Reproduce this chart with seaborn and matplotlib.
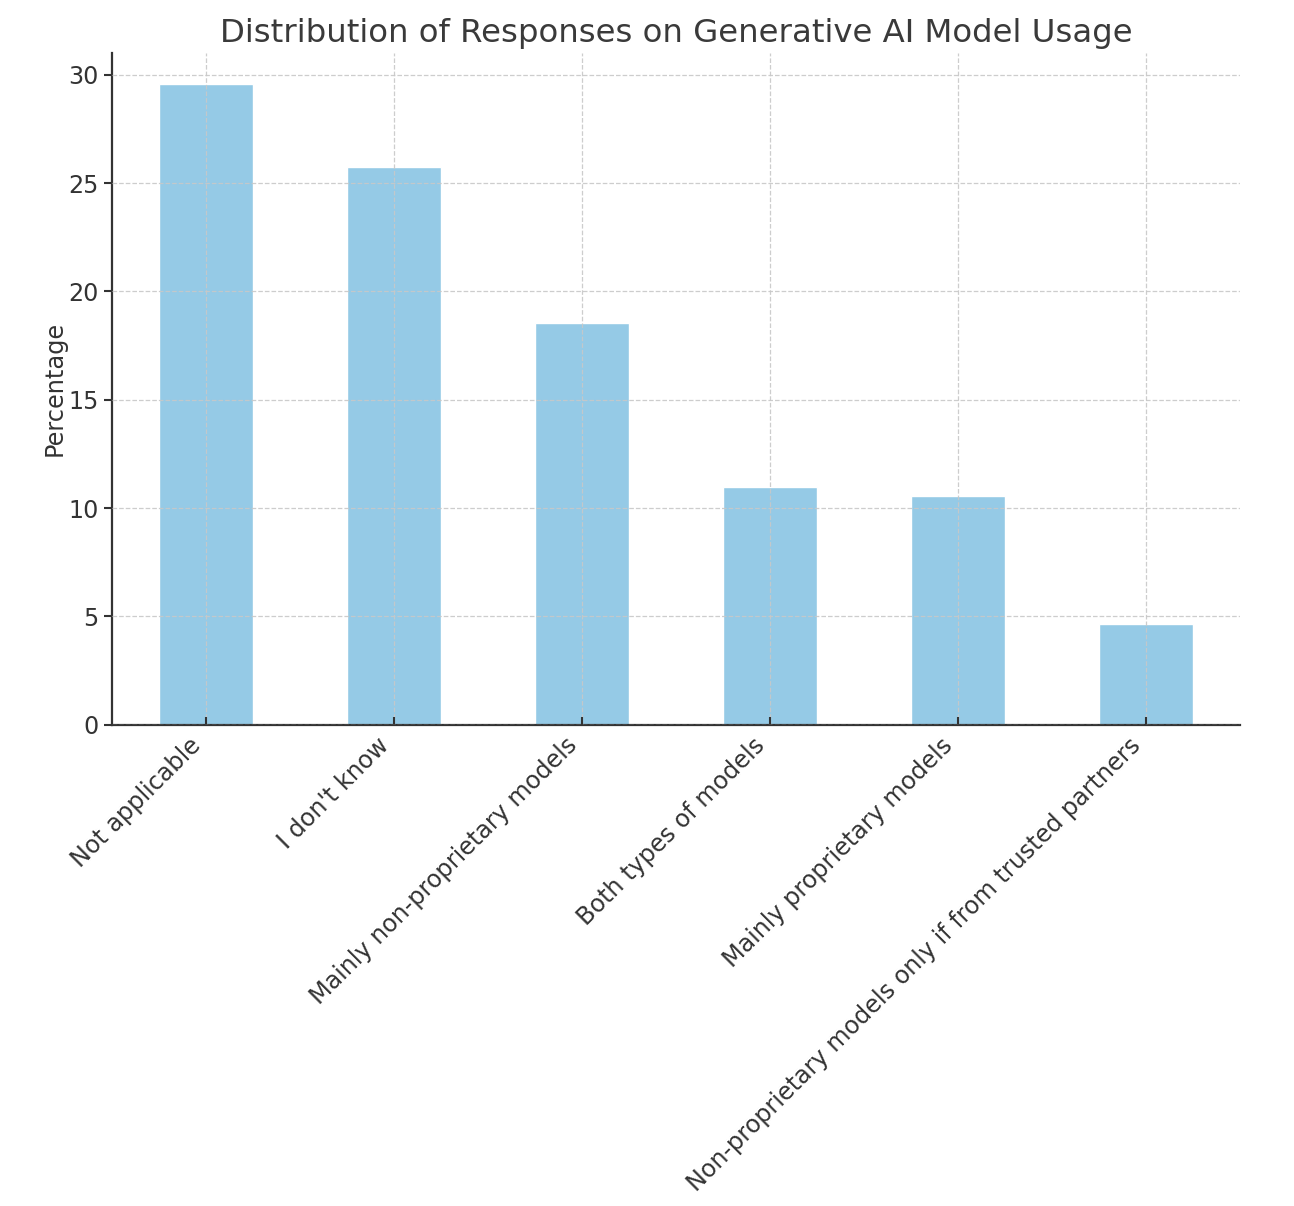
import matplotlib
matplotlib.use("Agg")
import matplotlib.pyplot as plt
import seaborn as sns

categories = [
    "Not applicable",
    "I don't know",
    "Mainly non-proprietary models",
    "Both types of models",
    "Mainly proprietary models",
    "Non-proprietary models only if from trusted partners",
]
values = [29.55, 25.75, 18.55, 10.98, 10.57, 4.66]

sns.set_style("white")
plt.rcParams['font.family'] = ['DejaVu Sans']
text_color = "#333333"

fig = plt.figure(figsize=(12.94, 12.06), dpi=100)
ax = fig.add_axes([0.0866, 0.399, 0.8714, 0.557])

sns.barplot(x=categories, y=values, color="#95CAE6", width=0.5, saturation=1, ax=ax)

ax.set_xlim(-0.5, 5.5)
ax.set_ylim(0, 31.0)
ax.set_axisbelow(False)
ax.grid(True, linestyle="--", color="#c8c8c8", linewidth=0.9, alpha=0.9)

ax.set_title("Distribution of Responses on Generative AI Model Usage",
             fontsize=23.3, color="#3a3a3a", pad=8)
ax.set_ylabel("Percentage", fontsize=17.3, color=text_color, labelpad=1.5)
ax.set_xlabel("")
ax.set_xticks(range(len(categories)))
ax.set_xticklabels(categories, rotation=45, ha="right",
                   fontsize=17.2, color=text_color)
ax.set_yticks([0, 5, 10, 15, 20, 25, 30])
ax.tick_params(axis="y", labelsize=17.2, colors=text_color, length=6, width=1.5, direction="out", left=True)
ax.tick_params(axis="x", length=6, width=1.5, direction="in", bottom=True, colors=text_color, pad=6)
for lbl in ax.get_yticklabels():
    lbl.set_color(text_color)

for s in ["top", "right"]:
    ax.spines[s].set_visible(False)
for s in ["left", "bottom"]:
    ax.spines[s].set_color(text_color)
    ax.spines[s].set_linewidth(1.6)

fig.savefig("out.png", dpi=100)
